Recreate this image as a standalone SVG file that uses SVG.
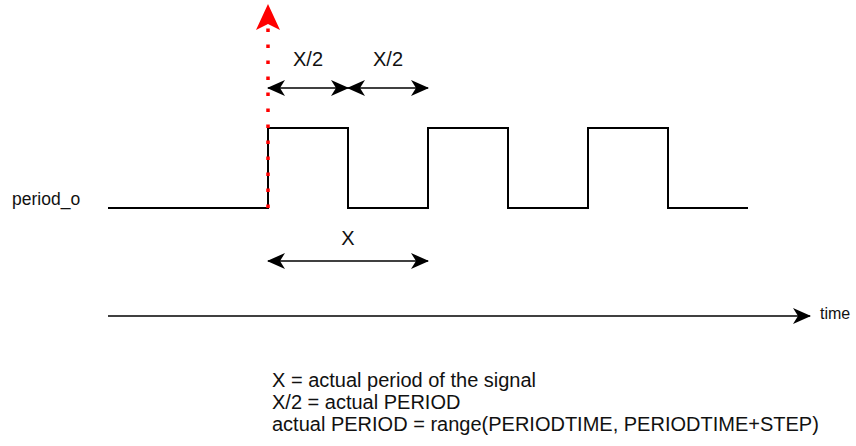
<svg xmlns="http://www.w3.org/2000/svg" width="856" height="446" viewBox="0 0 856 446">
<style>
text{font-family:"Liberation Sans",Arial,sans-serif;font-size:20px;fill:#111}
.sig{fill:none;stroke:#000;stroke-width:2}
.ln{fill:none;stroke:#000;stroke-width:1.5}
</style>
<defs>
<marker id="ah" viewBox="0 0 18 18" refX="17" refY="9" markerWidth="18" markerHeight="18" markerUnits="userSpaceOnUse" orient="auto-start-reverse">
<path d="M0,1 L18,9 L0,17 L5,9 Z" fill="#000"/>
</marker>
<marker id="ahr" viewBox="0 0 26 24" refX="25" refY="12" markerWidth="26" markerHeight="24" markerUnits="userSpaceOnUse" orient="auto">
<path d="M0,0 L26,12 L0,24 L6,12 Z" fill="#ff0000"/>
</marker>
</defs>
<g id="signal">
<path class="sig" d="M108,208 H268 V128 H348 V208 H428 V128 H508 V208 H588 V128 H668 V208 H748"/>
</g>
<g id="label-period">
<text x="12" y="205" style="font-size:17.5px">period_o</text>
</g>
<g id="label-half1"><text x="308" y="66" text-anchor="middle">X/2</text></g>
<g id="label-half2"><text x="388" y="66" text-anchor="middle">X/2</text></g>
<g id="label-x"><text x="348" y="245" text-anchor="middle">X</text></g>
<g id="label-time"><text x="820" y="319" style="font-size:16px">time</text></g>
<g id="legend">
<text x="272" y="387">X = actual period of the signal</text>
<text x="272" y="409">X/2 = actual PERIOD</text>
<text x="272" y="431">actual PERIOD = range(PERIODTIME, PERIODTIME+STEP)</text>
</g>
<g id="connectors">
<line x1="268" y1="208" x2="268" y2="5" stroke="#ff0000" stroke-width="3.5" stroke-dasharray="3.5 12.5" marker-end="url(#ahr)"/>
<line class="ln" x1="268" y1="88" x2="348" y2="88" marker-start="url(#ah)" marker-end="url(#ah)"/>
<line class="ln" x1="348" y1="88" x2="428" y2="88" marker-start="url(#ah)" marker-end="url(#ah)"/>
<line class="ln" x1="268" y1="261" x2="428" y2="261" marker-start="url(#ah)" marker-end="url(#ah)"/>
<line class="ln" x1="108" y1="316" x2="810" y2="316" marker-end="url(#ah)"/>
</g>
</svg>
